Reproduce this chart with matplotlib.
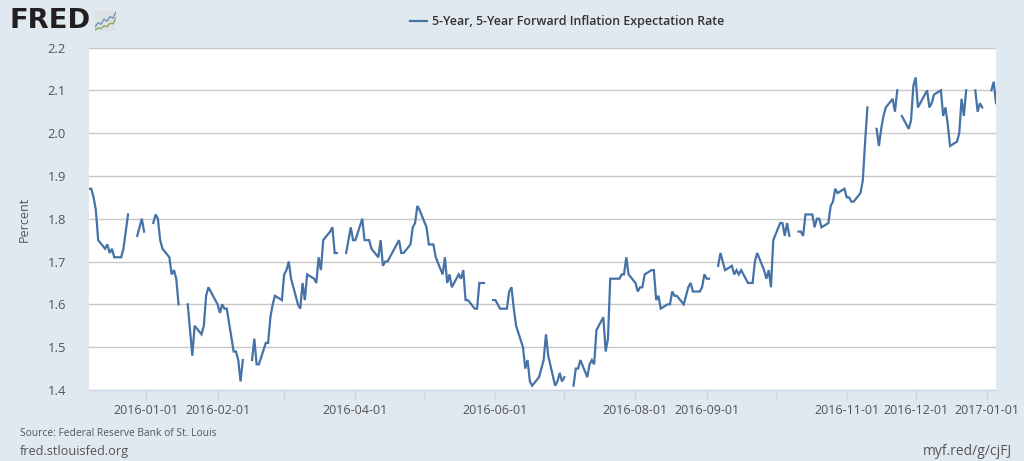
import numpy as np
import pandas as pd
import matplotlib
matplotlib.use('Agg')
import matplotlib.pyplot as plt

nan = np.nan

# Значения по месяцам, только рабочие дни (пропуски - праздники)
dec_2015 = [1.87, 1.87, 1.85, 1.82, 1.75, 1.73, 1.74, 1.72, 1.73, 1.71,
            1.71, 1.73, 1.77, 1.81, nan, 1.76, 1.78, 1.80, 1.77]
jan_2016 = [nan, 1.79, 1.81, 1.80, 1.75, 1.73, 1.71, 1.67, 1.68, 1.66, 1.60,
            nan, 1.60, 1.54, 1.48, 1.55, 1.53, 1.55, 1.62, 1.64, 1.63]
feb_2016 = [1.60, 1.58, 1.60, 1.59, 1.59, 1.49, 1.49, 1.47, 1.42, 1.47,
            nan, 1.47, 1.52, 1.46, 1.46, 1.51, 1.51, 1.57, 1.60, 1.62, 1.61]
mar_2016 = [1.67, 1.68, 1.70, 1.66, 1.60, 1.59, 1.65, 1.61, 1.67, 1.66, 1.65, 1.71,
            1.68, 1.75, 1.77, 1.78, 1.72, 1.72, nan, 1.72, 1.75, 1.78, 1.75]
apr_2016 = [1.75, 1.80, 1.75, 1.75, 1.75, 1.73, 1.71, 1.75, 1.69, 1.70, 1.70,
            1.73, 1.74, 1.75, 1.72, 1.72, 1.74, 1.78, 1.79, 1.83, 1.82]
may_2016 = [1.78, 1.74, 1.74, 1.74, 1.71, 1.67, 1.71, 1.65, 1.67, 1.64, 1.67,
            1.66, 1.68, 1.61, 1.61, 1.59, 1.59, 1.65, 1.65, 1.65, nan, 1.61]
jun_2016 = [1.61, 1.60, 1.59, 1.59, 1.63, 1.64, 1.59, 1.55, 1.50, 1.45, 1.47,
            1.42, 1.41, 1.43, 1.45, 1.47, 1.53, 1.48, 1.41, 1.42, 1.44, 1.42]
jul_2016 = [1.43, nan, 1.41, 1.45, 1.45, 1.47, 1.43, 1.46, 1.47, 1.46, 1.54,
            1.57, 1.49, 1.52, 1.66, 1.66, 1.66, 1.67, 1.67, 1.71, 1.67]
aug_2016 = [1.65, 1.63, 1.64, 1.64, 1.67, 1.68, 1.68, 1.61, 1.62, 1.59, 1.60, 1.60,
            1.63, 1.62, 1.62, 1.60, 1.62, 1.64, 1.65, 1.63, 1.63, 1.64, 1.67]
sep_2016 = [1.66, 1.66, nan, 1.69, 1.72, 1.70, 1.68, 1.69, 1.67, 1.68, 1.67,
            1.68, 1.65, 1.65, 1.65, 1.70, 1.72, 1.68, 1.66, 1.68, 1.64, 1.75]
oct_2016 = [1.79, 1.79, 1.76, 1.79, 1.76, nan, 1.77, 1.77, 1.76, 1.81, 1.81,
            1.78, 1.80, 1.80, 1.78, 1.79, 1.83, 1.84, 1.87, 1.86, 1.87]
nov_2016 = [1.85, 1.85, 1.84, 1.84, 1.86, 1.89, 1.98, 2.06, nan, 2.01, 1.97,
            2.01, 2.04, 2.06, 2.08, 2.05, 2.10, nan, 2.04, 2.01, 2.03, 2.11]
dec_2016 = [2.13, 2.06, 2.09, 2.10, 2.06, 2.07, 2.09, 2.10, 2.04, 2.06, 2.02,
            1.97, 1.98, 2.00, 2.08, 2.04, 2.10, nan, 2.10, 2.05, 2.07, 2.06]
jan_2017 = [nan, 2.10, 2.12, 2.07]

y_ticks = [1.4, 1.5, 1.6, 1.7, 1.8, 1.9, 2.0, 2.1, 2.2]
x_ticks = ['2016-01-01', '2016-02-01', '2016-03-01', '2016-04-01', '2016-05-01',
           '2016-06-01', '2016-07-01', '2016-08-01', '2016-09-01', '2016-10-01',
           '2016-11-01', '2016-12-01', '2017-01-01']
x_labels = ['2016-01-01', '2016-02-01', '', '2016-04-01', '', '2016-06-01', '',
            '2016-08-01', '2016-09-01', '', '2016-11-01', '2016-12-01', '2017-01-01']

series_name = '5-Year, 5-Year Forward Inflation Expectation Rate'

# Логотип: две линии на значке
icon_blue = [1.8, 3.4, 2.8, 4.8, 4.0, 5.8, 5.2, 7.6]
icon_green = [0.5, 1.4, 1.1, 2.2, 1.9, 3.2, 3.0, 5.4]

values = (dec_2015 + jan_2016 + feb_2016 + mar_2016 + apr_2016 + may_2016 + jun_2016
          + jul_2016 + aug_2016 + sep_2016 + oct_2016 + nov_2016 + dec_2016 + jan_2017)
dates = pd.bdate_range('2015-12-07', '2017-01-05')

W, H = 1024, 461
bg_color = '#e1e9f0'
line_color = '#4572a7'
grid_color = '#c8c8c8'
tick_color = '#ccd6eb'
text_color = '#555555'

plt.rcParams['font.family'] = ['Open Sans', 'DejaVu Sans']

fig = plt.figure(figsize=(W / 100, H / 100), dpi=100, facecolor=bg_color)


def px_x(x):
    return x / W


def px_y(y):
    return 1 - y / H


left, right, top, bottom = 89, 996, 47.5, 390
ax = fig.add_axes([px_x(left), px_y(bottom), (right - left) / W, (bottom - top) / H])
ax.set_facecolor('white')
ax.plot(dates, values, color=line_color, linewidth=1.6, solid_joinstyle='miter', zorder=3)

ax.set_xlim(pd.Timestamp('2015-12-07'), pd.Timestamp('2017-01-05'))
ax.set_ylim(1.4, 2.2)
ax.set_yticks(y_ticks)
ax.set_yticklabels(['%.1f' % v for v in y_ticks])
ax.set_xticks(pd.to_datetime(x_ticks))
ax.set_xticklabels(x_labels)
ax.grid(axis='y', color=grid_color, linewidth=1.0, zorder=1)
ax.tick_params(axis='y', length=0, pad=16.5, labelsize=9.4, labelcolor=text_color)
ax.tick_params(axis='x', length=7, width=1, color=tick_color, pad=3,
               labelsize=9.0, labelcolor=text_color)
for side in ['left', 'right', 'top']:
    ax.spines[side].set_visible(False)
ax.spines['bottom'].set_color(tick_color)
ax.spines['bottom'].set_linewidth(1.0)

fig.text(px_x(24), px_y(219), 'Percent', rotation=90, ha='center', va='center',
         fontsize=9, color=text_color)

# Легенда
fig.add_artist(plt.Line2D([px_x(410), px_x(427)], [px_y(21), px_y(21)],
                          color=line_color, linewidth=1.6))
fig.text(px_x(432), px_y(21), series_name, ha='left', va='center', fontsize=8.9,
         fontweight='semibold', color='#333333')

# Подписи внизу
fig.text(px_x(20), px_y(433.5), 'Source: Federal Reserve Bank of St. Louis', ha='left',
         va='center', fontsize=7.4, color=text_color)
fig.text(px_x(20), px_y(451.5), 'fred.stlouisfed.org', ha='left', va='center',
         fontsize=9.2, color=text_color)
fig.text(px_x(1012), px_y(451.5), 'myf.red/g/cjFJ', ha='right', va='center',
         fontsize=10, color=text_color)

# Логотип FRED
fig.text(px_x(9), px_y(21), 'FRED', ha='left', va='center', fontsize=19.7,
         fontweight='bold', family='DejaVu Sans', color='#231f20')
icon = fig.add_axes([px_x(95), px_y(31.5), 21 / W, 20.5 / H], facecolor='#dde1e3')
icon.plot(range(len(icon_blue)), icon_blue, color='#6f97bd', linewidth=1.0)
icon.plot(range(len(icon_green)), icon_green, color='#8aa85a', linewidth=1.0)
icon.set_xlim(0, len(icon_blue) - 1)
icon.set_ylim(0, 8)
icon.set_xticks([])
icon.set_yticks([])
for side in icon.spines:
    icon.spines[side].set_visible(False)

fig.savefig('out.png', dpi=100, facecolor=bg_color)
